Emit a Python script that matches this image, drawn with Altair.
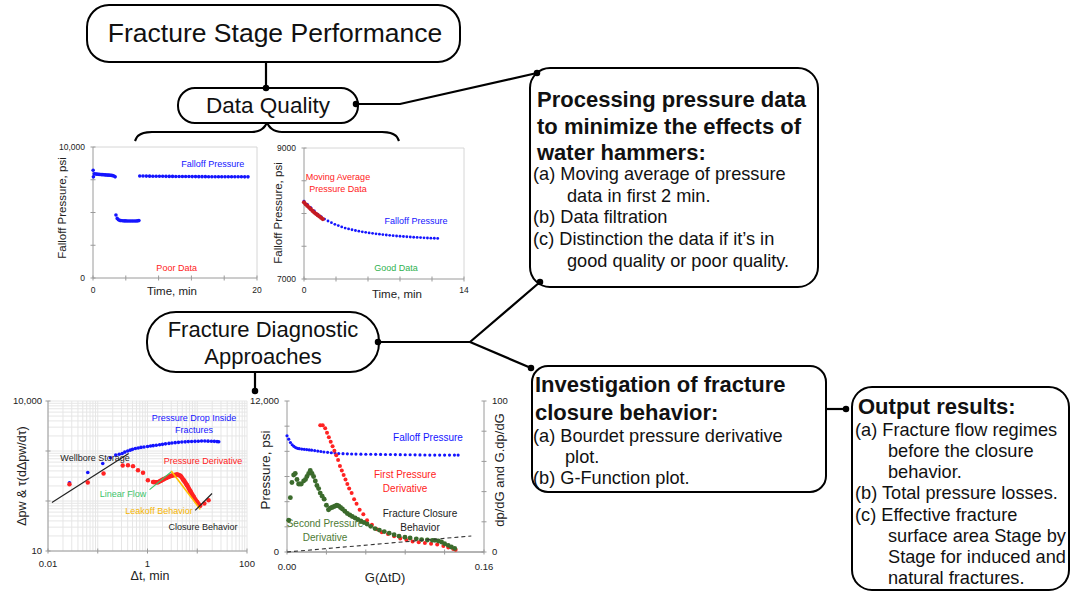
import altair as alt
import pandas as pd

W, H = 1073, 594
FONT = "Liberation Sans"

# ---------------- chart 1 (poor data) ----------------
c1_seg_a_time = [0.02, 0.05, 0.15, 0.3, 0.45, 0.6, 0.75, 0.9, 1.05, 1.2, 1.35, 1.5, 1.65, 1.8, 1.95, 2.1, 2.25, 2.4, 2.55, 2.7]
c1_seg_a_pres = [8230, 7720, 7960, 7940, 7930, 7920, 7910, 7900, 7895, 7890, 7880, 7870, 7860, 7855, 7850, 7840, 7830, 7815, 7790, 7720]
c1_seg_b_time = [2.8, 2.95, 3.1, 3.25, 3.4, 3.6, 3.8, 4.0, 4.2, 4.4, 4.6, 4.8, 5.0, 5.2, 5.4, 5.6]
c1_seg_b_pres = [4810, 4550, 4450, 4400, 4380, 4370, 4360, 4360, 4355, 4355, 4355, 4355, 4355, 4355, 4360, 4380]
c1_seg_c_time = [5.7, 6.1, 6.5, 6.9, 7.3, 7.7, 8.1, 8.5, 8.9, 9.3, 9.7, 10.1, 10.5, 10.9, 11.3, 11.7, 12.1,
                 12.5, 12.9, 13.3, 13.7, 14.1, 14.5, 14.9, 15.3, 15.7, 16.1, 16.5, 16.9, 17.3, 17.7, 18.1, 18.5, 18.9]
c1_seg_c_pres = [7790, 7785, 7780, 7775, 7772, 7768, 7765, 7762, 7760, 7757, 7755, 7752, 7750, 7748, 7746, 7744, 7742,
                 7740, 7738, 7736, 7735, 7734, 7733, 7732, 7731, 7730, 7729, 7728, 7727, 7726, 7725, 7724, 7723, 7722]
c1_xticks = [0, 4, 8, 12, 16, 20]
c1_yticks = [0, 2500, 5000, 7500, 10000]
c1_xlab_v, c1_xlab = [0, 20], ["0", "20"]
c1_ylab_v, c1_ylab = [0, 10000], ["0", "10,000"]

# ---------------- chart 2 (good data) ----------------
c2_time = [0.0, 0.3, 0.6, 0.9, 1.2, 1.5, 1.8, 2.1, 2.4, 2.7, 3.0, 3.3, 3.6, 3.9, 4.2, 4.5, 4.8, 5.1, 5.4, 5.7,
           6.0, 6.3, 6.6, 6.9, 7.2, 7.5, 7.8, 8.1, 8.4, 8.7, 9.0, 9.3, 9.6, 9.9, 10.2, 10.5, 10.8, 11.1, 11.4, 11.7]
c2_pres = [8190, 8140, 8090, 8040, 7990, 7950, 7915, 7885, 7860, 7835, 7815, 7795, 7778, 7765, 7752, 7740, 7730, 7720, 7712, 7704,
           7697, 7690, 7684, 7678, 7672, 7667, 7662, 7657, 7653, 7649, 7645, 7641, 7638, 7635, 7632, 7629, 7626, 7624, 7622, 7620]
c2_ma_time = [0.0, 0.15, 0.3, 0.45, 0.6, 0.75, 0.9, 1.05, 1.2, 1.35, 1.5, 1.65]
c2_ma_pres = [8170, 8140, 8115, 8090, 8065, 8040, 8015, 7995, 7975, 7955, 7935, 7915]
c2_xticks = [0, 2.8, 5.6, 8.4, 11.2, 14]
c2_yticks = [7000, 7500, 8000, 8500, 9000]
c2_xlab_v, c2_xlab = [0, 14], ["0", "14"]
c2_ylab_v, c2_ylab = [7000, 9000], ["7000", "9000"]

# ---------------- chart 3 (Bourdet derivative, log-log) ----------------
c3_drop_dt = [0.027, 0.063, 0.126, 0.18, 0.23, 0.27, 0.31, 0.35, 0.40, 0.45, 0.50, 0.57, 0.65, 0.74, 0.85, 1.0, 1.15, 1.3, 1.5, 1.75,
              2.0, 2.3, 2.7, 3.1, 3.6, 4.2, 4.9, 5.7, 6.6, 7.7, 9.0, 10.5, 12.2, 14.2, 16.5, 19.2, 22.0, 25.0, 27.0]
c3_drop_dp = [231, 372, 563, 732, 827, 860, 894, 950, 1000, 1040, 1080, 1120, 1150, 1180, 1200, 1230, 1260, 1280, 1300, 1330,
              1360, 1390, 1420, 1450, 1470, 1490, 1510, 1525, 1540, 1550, 1560, 1570, 1580, 1580, 1575, 1570, 1560, 1540, 1530]
c3_deriv_dt = [0.027, 0.063, 0.131, 0.317, 0.405, 0.512, 0.644, 0.813, 1.02, 1.29, 1.60, 1.85, 2.11, 2.4, 2.66, 3.0, 3.36, 3.92,
               4.57, 5.33, 6.22, 7.26, 8.47, 9.89, 11.5, 13.9, 16.9]
c3_deriv_dp = [217, 234, 355, 513, 521, 498, 414, 366, 261, 241, 238, 255, 273, 290, 304, 318, 329, 339,
               319, 261, 207, 157, 121, 96, 80, 89, 104]
c3_wellbore_dt = [0.012, 0.418]
c3_wellbore_dp = [93, 893]
c3_linear_dt = [1.1, 3.1]
c3_linear_dp = [169, 395]
c3_leakoff_dt = [3.0, 11.5]
c3_leakoff_dp = [400, 68]
c3_closure_dt = [9.1, 19.8]
c3_closure_dp = [65, 141]
c3_xticks = [0.01, 0.1, 1, 10, 100]
c3_yticks = [10, 100, 1000, 10000]
c3_xlab_v, c3_xlab = [0.01, 1, 100], ["0.01", "1", "100"]
c3_ylab_v, c3_ylab = [10, 10000], ["10", "10,000"]

# ---------------- chart 4 (G-function) ----------------
c4_fall_g = [0.000, 0.0014, 0.0028, 0.0042, 0.0056, 0.0070, 0.0085, 0.0100, 0.0120, 0.0140,
             0.0160, 0.0180, 0.0200, 0.0225, 0.0250, 0.0275, 0.0300, 0.0330, 0.0360, 0.0390,
             0.0420, 0.0455, 0.0490, 0.0525, 0.0560, 0.0600, 0.0640, 0.0680, 0.0720, 0.0760,
             0.0800, 0.0840, 0.0880, 0.0920, 0.0960, 0.1000, 0.1040, 0.1080, 0.1120, 0.1160,
             0.1200, 0.1240, 0.1280, 0.1320, 0.1360, 0.1390]
c4_fall_p = [9240, 8970, 8700, 8520, 8400, 8300, 8240, 8210, 8180, 8160,
             8140, 8110, 8090, 8060, 8020, 7990, 7950, 7920, 7890, 7860,
             7830, 7815, 7800, 7790, 7780, 7775, 7770, 7765, 7760, 7755,
             7750, 7745, 7740, 7735, 7730, 7725, 7720, 7715, 7710, 7705,
             7700, 7700, 7700, 7700, 7700, 7700]
c4_first_g = [0.0270, 0.0290, 0.0310, 0.0325, 0.0340, 0.0355, 0.0370, 0.0385, 0.0400, 0.0415,
              0.0430, 0.0445, 0.0460, 0.0475, 0.0490, 0.0505, 0.0525, 0.0545, 0.0565, 0.0590,
              0.0620, 0.0650, 0.0690, 0.0730, 0.0770, 0.0820, 0.0870, 0.0920, 0.0970, 0.1020,
              0.1070, 0.1120, 0.1170, 0.1220, 0.1270, 0.1310, 0.1350, 0.1370]
c4_first_v = [84, 84, 82, 79, 76, 73, 70, 67, 64, 61,
              57, 54, 51, 48, 45, 42, 39, 35, 32, 28,
              25, 21, 18, 15, 13, 12, 10.5, 9, 8, 7,
              6.5, 6, 5.5, 5, 4, 3, 2, 1.5]
c4_second_g = [0.0014, 0.0027, 0.0040, 0.0054, 0.0067, 0.0081, 0.0094, 0.0105, 0.0116, 0.0135,
               0.0150, 0.0162, 0.0176, 0.0189, 0.0203, 0.0216, 0.0230, 0.0243, 0.0257, 0.0270,
               0.0286, 0.0302, 0.0320, 0.0337, 0.0350, 0.0364, 0.0378, 0.0392, 0.0405, 0.0420,
               0.0435, 0.0450, 0.0470, 0.0490, 0.0510, 0.0530, 0.0553, 0.0575, 0.0600, 0.0625,
               0.0650, 0.0680, 0.0715, 0.0750, 0.0790, 0.0830, 0.0870, 0.0910, 0.0958, 0.1000,
               0.1050, 0.1093, 0.1140, 0.1180, 0.1201, 0.1230, 0.1255, 0.1280, 0.1309, 0.1335, 0.1362]
c4_second_v = [21, 36, 46, 51, 52, 48, 45, 45, 45, 47,
               48, 50, 52, 54, 52, 50, 47, 44, 42, 39,
               37, 35, 31, 28, 29, 29.5, 30, 30.5, 31, 30.5,
               29.5, 28.5, 27, 25.5, 24.5, 23.5, 22.5, 21.5, 20.5, 19.5,
               18.5, 17, 15.5, 14.5, 13.5, 12.5, 11.5, 10.5, 9.8, 9.3,
               8.7, 8.2, 7.9, 7.7, 7.7, 7.3, 6.6, 5.5, 4.4, 3.3, 2.4]
c4_trend_g = [0.0, 0.1497]
c4_trend_v = [0, 10.6]
c4_xticks = [0, 0.032, 0.064, 0.096, 0.128, 0.16]
c4_yticks_left = [0, 2000, 4000, 6000, 8000, 10000, 12000]
c4_yticks_right = [0, 20, 40, 60, 80, 100]
c4_xlab_v, c4_xlab = [0, 0.16], ["0.00", "0.16"]
c4_ylab_left_v, c4_ylab_left = [0, 12000], ["0", "12,000"]
c4_ylab_right_v, c4_ylab_right = [0, 100], ["0", "100"]

# ---------------- diagram texts ----------------
box_titles = ["Fracture Stage Performance", "Data Quality", "Fracture Diagnostic", "Approaches"]
bold_lines = ["Processing pressure data", "to minimize the effects of", "water hammers:",
              "Investigation of fracture", "closure behavior:", "Output results:"]
body_lines = ["(a) Moving average of pressure", "data in first 2 min.", "(b) Data filtration",
              "(c) Distinction the data if it\u2019s in", "good quality or poor quality.",
              "(a) Bourdet pressure derivative", "plot.", "(b) G-Function plot.",
              "(a) Fracture flow regimes", "before the closure", "behavior.", "(b) Total pressure losses.",
              "(c) Effective fracture", "surface area Stage by", "Stage for induced and", "natural fractures."]

# ---------------- diagram layout (pixels) ----------------
title_pos = dict(x=[275, 268, 263, 263], y=[34, 106, 330, 357], size=[26.5, 22.5, 22, 22])
bold_pos = dict(x=[537, 537, 537, 535, 535, 858], y=[100, 127, 153, 385, 413, 407])
body_pos = dict(x=[533, 567, 533, 533, 567, 533, 565, 533, 855, 888, 888, 855, 855, 888, 888, 888],
                y=[175, 197, 218, 240, 262, 437, 458, 479, 431, 452, 473, 494, 516, 537, 558, 579])
boxes = dict(x1=[87, 178, 147, 530, 532, 852], y1=[5, 88, 312, 68, 366, 387],
             x2=[460, 358, 379, 818, 826, 1069], y2=[62, 123, 372, 287, 492, 590],
             r=[22, 17, 29, 20, 16, 20])
connectors = [[(266, 62), (266, 88)],
              [(358, 104), (400, 104), (537, 73)],
              [(379, 342), (470, 342), (540, 282)],
              [(470, 342), (531, 368)],
              [(255, 372), (255, 391)],
              [(826, 409), (846, 409)]]
dots = [(266, 88), (356, 104), (537, 73), (378, 342), (540, 282), (531, 368), (255, 391), (846, 409)]
brace_left = [(135, 141), (137, 137), (141, 134), (147, 132.3), (152, 132), (252, 132), (258, 131), (262, 129), (265, 126), (267, 123)]
brace_right = [(267, 123), (269, 126), (272, 129), (276, 131), (282, 132), (382, 132), (387, 132.3), (393, 134), (397, 137), (399, 141)]
axis_titles = dict(label=["Time, min", "Falloff Pressure, psi", "Time, min", "Falloff Pressure, psi",
                          "\u0394t, min", "\u0394pw & \u03c4(d\u0394pw/d\u03c4)", "G(\u0394tD)", "Pressure, psi", "dp/dG and G.dp/dG"],
                   x=[172, 63, 397, 279, 150, 22, 385, 266, 500],
                   y=[292, 208, 295, 213, 576, 476, 578, 470, 470],
                   size=[11.5, 11.5, 11.5, 11.5, 12.5, 12.5, 13, 13.5, 13],
                   angle=[0, 270, 0, 270, 0, 270, 0, 270, 270])

DX = alt.Scale(domain=[0, W], range=[0, W], nice=False, zero=False)
DY = alt.Scale(domain=[0, H], range=[0, H], nice=False, zero=False)


def dpos(xf="x", yf="y"):
    return dict(x=alt.X(f"{xf}:Q", scale=DX, axis=None), y=alt.Y(f"{yf}:Q", scale=DY, axis=None))


layers = []
rows = []
for s, seg in enumerate(connectors):
    for o, (x, y) in enumerate(seg):
        rows.append(dict(seg=s, o=o, x=x, y=y))
layers.append(alt.Chart(pd.DataFrame(rows)).mark_line(color="black", strokeWidth=2.2).encode(
    **dpos(), detail="seg:N", order="o:Q"))
rows = []
for s, seg in enumerate([brace_left, brace_right]):
    for o, (x, y) in enumerate(seg):
        rows.append(dict(seg=s, o=o, x=x, y=y))
layers.append(alt.Chart(pd.DataFrame(rows)).mark_line(color="black", strokeWidth=2.2, interpolate="monotone").encode(
    **dpos(), detail="seg:N", order="o:Q"))
bdf = pd.DataFrame(boxes)
for i in range(len(bdf)):
    layers.append(alt.Chart(bdf.iloc[[i]]).mark_rect(cornerRadius=int(bdf.r[i]), fill="white", stroke="black",
                                                     strokeWidth=2).encode(
        x=alt.X("x1:Q", scale=DX, axis=None), x2="x2:Q", y=alt.Y("y1:Q", scale=DY, axis=None), y2="y2:Q"))
layers.append(alt.Chart(pd.DataFrame(dots, columns=["x", "y"])).mark_circle(color="black", size=42, opacity=1).encode(**dpos()))
tdf = pd.DataFrame(dict(label=box_titles, **title_pos))
layers.append(alt.Chart(tdf).mark_text(font=FONT, align="center", baseline="middle", color="#111").encode(
    **dpos(), text="label:N", size=alt.Size("size:Q", scale=None)))
layers.append(alt.Chart(pd.DataFrame(dict(label=bold_lines, **bold_pos))).mark_text(
    font=FONT, fontSize=22, fontWeight="bold", align="left", baseline="middle", color="#111").encode(**dpos(), text="label:N"))
layers.append(alt.Chart(pd.DataFrame(dict(label=body_lines, **body_pos))).mark_text(
    font=FONT, fontSize=18.2, align="left", baseline="middle", color="#111").encode(**dpos(), text="label:N"))
adf = pd.DataFrame(axis_titles)
for ang in [0, 270]:
    layers.append(alt.Chart(adf[adf.angle == ang]).mark_text(font=FONT, align="center", baseline="middle", color="#222",
                                                             angle=ang).encode(
        **dpos(), text="label:N", size=alt.Size("size:Q", scale=None)))
diagram = alt.layer(*layers)

AXC = "#9a9a9a"


def enc(xs, ys):
    return dict(x=alt.X("x:Q", scale=xs, axis=None), y=alt.Y("y:Q", scale=ys, axis=None))


def rules(xs, ys, x1, x2, y1, y2, color, width=1.0):
    df = pd.DataFrame(dict(x=x1, x2=x2, y=y1, y2=y2))
    return alt.Chart(df).mark_rule(color=color, strokeWidth=width).encode(**enc(xs, ys), x2="x2:Q", y2="y2:Q")


def labels(xs, ys, df, size):
    return alt.Chart(df).mark_text(font=FONT, fontSize=size, align="center", baseline="middle").encode(
        **enc(xs, ys), text="label:N", color=alt.Color("c:N", scale=None))


def axes(xs, ys, xdom, ydom, xticks, yticks, xlab_v, xlab, ylab_v, ylab, size, xdy, ydx, yside="left"):
    """Axis lines, ticks and tick labels, drawn through the chart's own scales."""
    x0 = xdom[0] if yside == "left" else xdom[1]
    out = [
        rules(xs, ys, [xdom[0]], [xdom[1]], [ydom[0]], [ydom[0]], AXC),
        rules(xs, ys, [x0], [x0], [ydom[0]], [ydom[1]], AXC),
    ]
    if xticks:
        out.append(alt.Chart(pd.DataFrame(dict(x=xticks, y=[ydom[0]] * len(xticks)))).mark_tick(
            orient="vertical", size=5, thickness=1, color=AXC, opacity=1).encode(**enc(xs, ys)))
        out.append(alt.Chart(pd.DataFrame(dict(x=xlab_v, y=[ydom[0]] * len(xlab_v), label=xlab))).mark_text(
            font=FONT, fontSize=size, align="center", baseline="middle", dy=xdy, color="#222").encode(
            **enc(xs, ys), text="label:N"))
    out.append(alt.Chart(pd.DataFrame(dict(x=[x0] * len(yticks), y=yticks))).mark_tick(
        orient="horizontal", size=5, thickness=1, color=AXC, opacity=1).encode(**enc(xs, ys)))
    out.append(alt.Chart(pd.DataFrame(dict(x=[x0] * len(ylab_v), y=ylab_v, label=ylab))).mark_text(
        font=FONT, fontSize=size, align="right" if yside == "left" else "left", baseline="middle", dx=ydx,
        color="#222").encode(**enc(xs, ys), text="label:N"))
    return out


BLUE = "#1515ff"
RED = "#ff2222"

# ---- chart 1 ----
X1 = alt.Scale(domain=[0, 20], range=[93, 257], nice=False, zero=False)
Y1 = alt.Scale(domain=[0, 10000], range=[278, 147], nice=False, zero=False)
c1_df = pd.DataFrame(dict(x=c1_seg_a_time + c1_seg_b_time + c1_seg_c_time,
                          y=c1_seg_a_pres + c1_seg_b_pres + c1_seg_c_pres))
c1 = alt.layer(
    rules(X1, Y1, [0, 20], [20, 20], [10000, 0], [10000, 10000], "#d6d6d6"),
    *axes(X1, Y1, [0, 20], [0, 10000], c1_xticks, c1_yticks, c1_xlab_v, c1_xlab, c1_ylab_v, c1_ylab, 8.5, 12, -8),
    alt.Chart(c1_df).mark_circle(size=13, color=BLUE, opacity=1).encode(**enc(X1, Y1)),
    labels(X1, Y1, pd.DataFrame(dict(x=[14.6, 10.2], y=[8703, 763], label=["Falloff Pressure", "Poor Data"],
                                     c=[BLUE, RED])), 9),
)

# ---- chart 2 ----
X2 = alt.Scale(domain=[0, 14], range=[304, 464], nice=False, zero=False)
Y2 = alt.Scale(domain=[7000, 9000], range=[279, 148], nice=False, zero=False)
c2 = alt.layer(
    rules(X2, Y2, [0, 14], [14, 14], [9000, 7000], [9000, 9000], "#d6d6d6"),
    *axes(X2, Y2, [0, 14], [7000, 9000], c2_xticks, c2_yticks, c2_xlab_v, c2_xlab, c2_ylab_v, c2_ylab, 8.5, 11, -8),
    alt.Chart(pd.DataFrame(dict(x=c2_time, y=c2_pres))).mark_circle(size=8, color=BLUE, opacity=1).encode(**enc(X2, Y2)),
    alt.Chart(pd.DataFrame(dict(x=c2_ma_time, y=c2_ma_pres))).mark_circle(size=18, color="#c41a22", opacity=1).encode(
        **enc(X2, Y2)),
    labels(X2, Y2, pd.DataFrame(dict(x=[2.97, 2.97, 9.8, 8.05], y=[8557, 8374, 7886, 7168],
                                     label=["Moving Average", "Pressure Data", "Falloff Pressure", "Good Data"],
                                     c=[RED, RED, BLUE, "#2fb24f"])), 9),
)

# ---- chart 3 ----
X3 = alt.Scale(type="log", domain=[0.01, 100], range=[48, 247], nice=False)
Y3 = alt.Scale(type="log", domain=[10, 10000], range=[551, 401], nice=False)
gx = [k * 10 ** d for d in (-2, -1, 0, 1) for k in range(1, 10)] + [100]
gy = [k * 10 ** d for d in (1, 2, 3) for k in range(1, 10)] + [10000]
c3 = alt.layer(
    rules(X3, Y3, gx, gx, [10] * len(gx), [10000] * len(gx), "#e6e6e6"),
    rules(X3, Y3, [0.01] * len(gy), [100] * len(gy), gy, gy, "#e6e6e6"),
    *axes(X3, Y3, [0.01, 100], [10, 10000], c3_xticks, c3_yticks, c3_xlab_v, c3_xlab, c3_ylab_v, c3_ylab, 9.5, 13, -6),
    rules(X3, Y3, c3_wellbore_dt[:1], c3_wellbore_dt[1:], c3_wellbore_dp[:1], c3_wellbore_dp[1:], "#222", 1.2),
    alt.Chart(pd.DataFrame(dict(x=c3_drop_dt, y=c3_drop_dp))).mark_circle(size=13, color=BLUE, opacity=1).encode(
        **enc(X3, Y3)),
    alt.Chart(pd.DataFrame(dict(x=c3_deriv_dt[9:25], y=c3_deriv_dp[9:25]))).mark_line(
        color=RED, strokeWidth=4.5, interpolate="monotone").encode(**enc(X3, Y3)),
    alt.Chart(pd.DataFrame(dict(x=c3_deriv_dt, y=c3_deriv_dp))).mark_circle(size=20, color=RED, opacity=1).encode(
        **enc(X3, Y3)),
    rules(X3, Y3, c3_linear_dt[:1], c3_linear_dt[1:], c3_linear_dp[:1], c3_linear_dp[1:], "#3cc46a", 1.2),
    rules(X3, Y3, c3_leakoff_dt[:1], c3_leakoff_dt[1:], c3_leakoff_dp[:1], c3_leakoff_dp[1:], "#ffbf00", 1.6),
    rules(X3, Y3, c3_closure_dt[:1], c3_closure_dt[1:], c3_closure_dp[:1], c3_closure_dp[1:], "#222", 1.2),
    labels(X3, Y3, pd.DataFrame(dict(
        x=[8.6, 8.6, 0.088, 13.1, 0.322, 1.70, 13.1],
        y=[4571, 2630, 724, 631, 138, 63, 30],
        label=["Pressure Drop Inside", "Fractures", "Wellbore Storage", "Pressure Derivative", "Linear Flow",
               "Leakoff Behavior", "Closure Behavior"],
        c=[BLUE, BLUE, "#222", RED, "#3cc46a", "#f5b400", "#222"])), 9),
)

# ---- chart 4 ----
X4 = alt.Scale(domain=[0, 0.16], range=[287, 484], nice=False, zero=False)
Y4L = alt.Scale(domain=[0, 12000], range=[552, 401], nice=False, zero=False)
Y4R = alt.Scale(domain=[0, 100], range=[552, 401], nice=False, zero=False)
c4_left = alt.layer(
    *axes(X4, Y4L, [0, 0.16], [0, 12000], c4_xticks, c4_yticks_left, c4_xlab_v, c4_xlab,
          c4_ylab_left_v, c4_ylab_left, 9.5, 15, -8),
    alt.Chart(pd.DataFrame(dict(x=c4_fall_g, y=c4_fall_p))).mark_circle(size=10, color=BLUE, opacity=1).encode(
        **enc(X4, Y4L)),
    labels(X4, Y4L, pd.DataFrame(dict(
        x=[0.1145, 0.0959, 0.0959, 0.108, 0.108, 0.0309, 0.0309],
        y=[9060, 6119, 5007, 3020, 1907, 2225, 1113],
        label=["Falloff Pressure", "First Pressure", "Derivative", "Fracture Closure", "Behavior",
               "Second Pressure", "Derivative"],
        c=[BLUE, RED, RED, "#222", "#222", "#4e7a35", "#4e7a35"])), 10),
)
c4_right = alt.layer(
    *axes(X4, Y4R, [0, 0.16], [0, 100], [], c4_yticks_right, [], [], c4_ylab_right_v, c4_ylab_right,
          9.5, 15, 8, yside="right"),
    alt.Chart(pd.DataFrame(dict(x=c4_first_g, y=c4_first_v))).mark_circle(size=16, color=RED, opacity=1).encode(
        **enc(X4, Y4R)),
    alt.Chart(pd.DataFrame(dict(x=c4_second_g, y=c4_second_v))).mark_circle(size=24, color="#3b6b2c", opacity=1).encode(
        **enc(X4, Y4R)),
    alt.Chart(pd.DataFrame(dict(x=c4_trend_g, y=c4_trend_v))).mark_line(color="#333", strokeWidth=1.1,
                                                                       strokeDash=[4, 3]).encode(**enc(X4, Y4R)),
)
c4 = alt.layer(c4_left, c4_right).resolve_scale(y="independent")

chart = alt.layer(diagram, c1, c2, c3, c4).resolve_scale(x="independent", y="independent").properties(
    width=W, height=H, padding=0, autosize=alt.AutoSizeParams(type="none"), background="white"
).configure_view(stroke=None)

chart.save("out.html", embed_options={"renderer": "svg", "actions": False})
